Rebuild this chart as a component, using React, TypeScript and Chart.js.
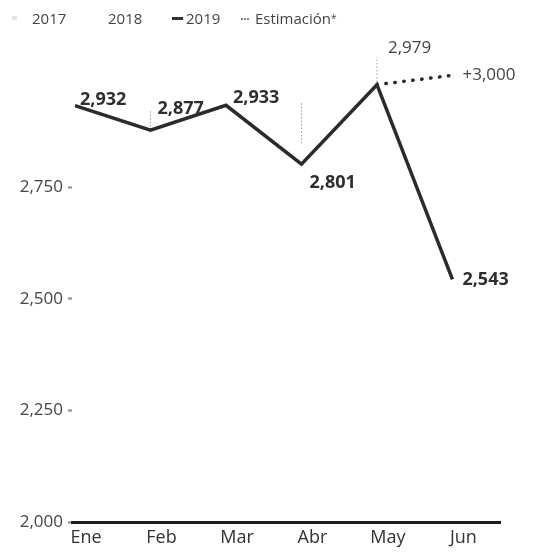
import React, { useEffect, useRef } from "react";
import { Chart, registerables } from "chart.js";

Chart.register(...registerables);

const months = ["Ene", "Feb", "Mar", "Abr", "May", "Jun"];
const values2019 = [2932, 2877, 2933, 2801, 2979, 2543];
const estimateMonths = [4, 5];
const estimateValues = [2979, 3000];
const estimateLabel = "+3,000";
const guideMonths = [1, 3, 4];
const guideFrom = [2877, 2848, 2985];
const guideTo = [2922, 2938, 3041];
const yTicks = [2000, 2250, 2500, 2750];

const FONT = "'Open Sans', 'Noto Sans', sans-serif";

// label styling: [dx, dy, bold]
const labelStyle: [number, number, boolean][] = [
  [5, -6, true],
  [7, -21, true],
  [7, -7, true],
  [8, 19, true],
  [11, -37, false],
  [10, 0, true],
];

const labelPlugin = {
  id: "valueLabels",
  afterDatasetsDraw(chart: any) {
    const ctx = chart.ctx;
    const meta = chart.getDatasetMeta(0);
    ctx.save();
    ctx.textAlign = "left";
    ctx.textBaseline = "middle";
    meta.data.forEach((pt: any, i: number) => {
      const [dx, dy, bold] = labelStyle[i];
      ctx.font = `${bold ? 700 : 400} ${bold ? 18 : 17}px ${FONT}`;
      ctx.fillStyle = bold ? "#2e2e2e" : "#444";
      ctx.fillText(values2019[i].toLocaleString("en-US"), pt.x + dx, pt.y + dy);
    });
    const em = chart.getDatasetMeta(1);
    const last = em.data[em.data.length - 1];
    ctx.font = `400 17px ${FONT}`;
    ctx.fillStyle = "#444";
    ctx.fillText(estimateLabel, last.x + 10, last.y);
    ctx.restore();
  },
};

export default function App() {
  const ref = useRef<HTMLCanvasElement | null>(null);
  useEffect(() => {
    if (!ref.current) return;
    const guideDatasets = guideMonths.map((m, i) => ({
      type: "line" as const,
      data: [
        { x: m, y: guideFrom[i] },
        { x: m, y: guideTo[i] },
      ],
      borderColor: "#9a9a9a",
      borderWidth: 1,
      borderDash: [1.5, 2],
      pointRadius: 0,
      clip: false as any,
    }));
    const chart = new Chart(ref.current, {
      type: "line",
      data: {
        datasets: [
          {
            label: "2019",
            data: values2019.map((v, i) => ({ x: i, y: v })),
            borderColor: "#2b2b2b",
            borderWidth: 3.5,
            pointRadius: 0,
            tension: 0,
            borderJoinStyle: "miter",
            clip: false as any,
          },
          {
            label: "Estimación*",
            data: estimateMonths.map((m, i) => ({ x: m, y: estimateValues[i] })),
            borderColor: "#2b2b2b",
            borderWidth: 3.5,
            borderDash: [0.5, 8.5],
            borderCapStyle: "round",
            pointRadius: 0,
            clip: false as any,
          },
          ...guideDatasets,
        ],
      },
      options: {
        animation: false,
        responsive: true,
        maintainAspectRatio: false,
        layout: { padding: { left: 0, right: 39, top: 53, bottom: 0 } },
        plugins: { legend: { display: false }, tooltip: { enabled: false } },
        scales: {
          x: {
            type: "linear",
            min: -0.04,
            max: 5.63,
            afterBuildTicks: (scale: any) => {
              scale.ticks = months.map((_, i) => ({ value: i }));
            },
            afterFit: (scale: any) => {
              scale.height = 32;
            },
            ticks: {
              callback: (v: any) => months[v] ?? "",
              font: { family: FONT, size: 18 },
              color: "#333",
              labelOffset: 11,
              padding: 5,
              maxRotation: 0,
              autoSkip: false,
            },
            grid: { drawOnChartArea: false, drawTicks: false },
            border: { display: true, color: "#1e1e1e", width: 3 },
          },
          y: {
            min: 2000,
            max: 3050,
            afterBuildTicks: (scale: any) => {
              scale.ticks = yTicks.map((v) => ({ value: v }));
            },
            afterFit: (scale: any) => {
              scale.width = 72;
            },
            ticks: {
              callback: (v: any) => Number(v).toLocaleString("en-US"),
              font: { family: FONT, size: 17 },
              color: "#444",
              padding: 5,
            },
            grid: {
              drawOnChartArea: false,
              drawTicks: true,
              tickLength: 4,
              tickWidth: 2,
              tickColor: "#888",
            },
            border: { display: false },
          },
        },
      },
      plugins: [labelPlugin],
    } as any);
    return () => chart.destroy();
  }, []);

  const legendText: React.CSSProperties = {
    position: "absolute",
    top: 8,
    fontFamily: FONT,
    fontSize: 15,
    color: "#444",
    lineHeight: "20px",
    whiteSpace: "nowrap",
  };

  return (
    <div
      style={{
        position: "fixed",
        left: 0,
        top: 0,
        width: 539,
        height: 554,
        background: "#fff",
      }}
    >
      <canvas ref={ref} />
      <div style={{ position: "absolute", left: 12, top: 16, width: 5, height: 4, background: "#e4e4e4" }} />
      <div style={{ ...legendText, left: 32 }}>2017</div>
      <div style={{ ...legendText, left: 108 }}>2018</div>
      <div style={{ position: "absolute", left: 172, top: 17, width: 11, height: 3, background: "#333" }} />
      <div style={{ ...legendText, left: 186 }}>2019</div>
      <div style={{ ...legendText, left: 240, letterSpacing: "-1px" }}>···</div>
      <div style={{ ...legendText, left: 255 }}>
        Estimación<span style={{ fontSize: 10, verticalAlign: "top" }}>*</span>
      </div>
    </div>
  );
}
